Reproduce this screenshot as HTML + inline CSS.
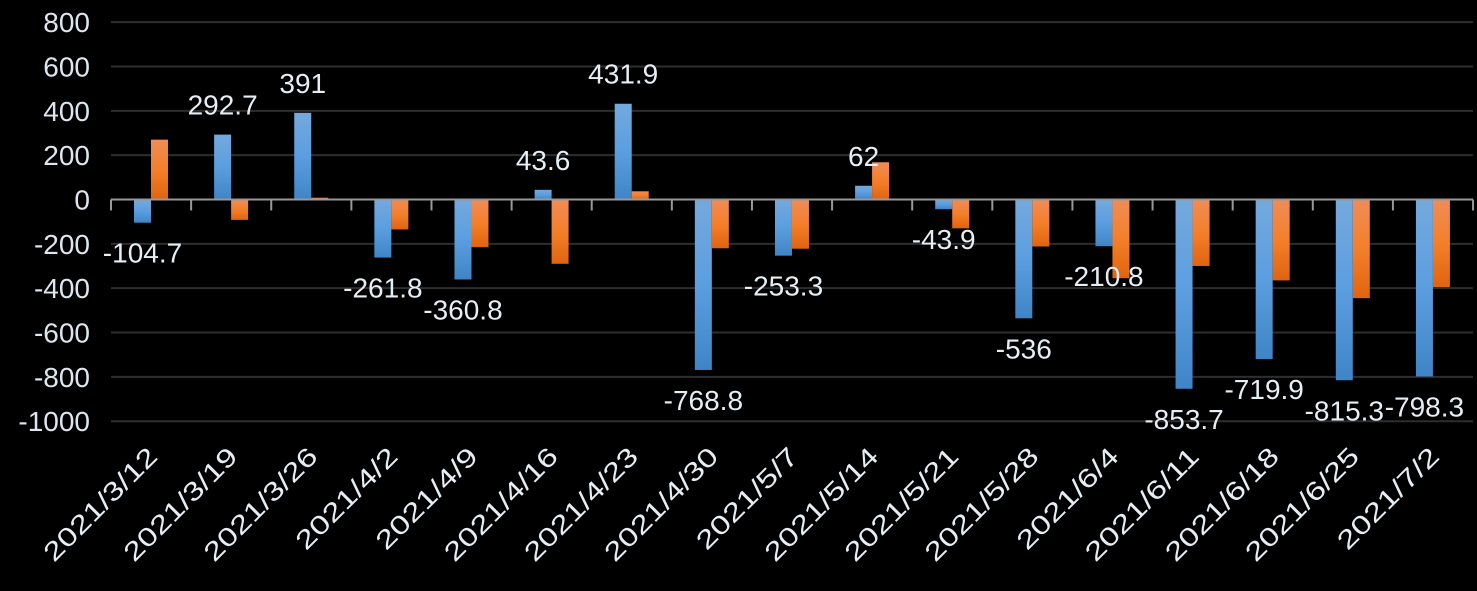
<!DOCTYPE html>
<html><head><meta charset="utf-8"><style>
html,body{margin:0;padding:0;background:#000;}
svg{display:block;font-family:"Liberation Sans",sans-serif;}
</style></head><body>
<svg id="s" width="1477" height="591" viewBox="0 0 1477 591" xmlns="http://www.w3.org/2000/svg">
<defs>
<linearGradient id="gb" x1="0" y1="0" x2="0" y2="1"><stop offset="0" stop-color="#74a9dd"/><stop offset="0.5" stop-color="#5b9ee0"/><stop offset="1" stop-color="#3f85c6"/></linearGradient>
<linearGradient id="go" x1="0" y1="0" x2="0" y2="1"><stop offset="0" stop-color="#f08c57"/><stop offset="0.5" stop-color="#f47f2a"/><stop offset="1" stop-color="#e0640f"/></linearGradient>
</defs>
<g id="g"></g>
</svg>
<script>
var NS="http://www.w3.org/2000/svg",g=document.getElementById("g");
function el(t,a,txt){var e=document.createElementNS(NS,t);for(var k in a)e.setAttribute(k,a[k]);if(txt!==undefined)e.textContent=txt;g.appendChild(e);return e;}
var k=0.2217,y0=199.5;function Y(v){return y0-v*k;}
for(var v=800;v>=-1000;v-=200){ if(v!==0) el("line",{x1:111,x2:1473,y1:Y(v),y2:Y(v),stroke:"#2e2e2e","stroke-width":2});
 el("text",{x:90,y:Y(v)+10,"text-anchor":"end","font-size":28,fill:"#dde6ee"},String(v));}
var B=[-104.7,292.7,391,-261.8,-360.8,43.6,431.9,-768.8,-253.3,62,-43.9,-536,-210.8,-853.7,-719.9,-815.3,-798.3];
var O=[270,-92,8,-135,-215,-290,37,-220,-222,168,-130,-212,-355,-300,-365,-445,-395];
var L=["2021/3/12","2021/3/19","2021/3/26","2021/4/2","2021/4/9","2021/4/16","2021/4/23","2021/4/30","2021/5/7","2021/5/14","2021/5/21","2021/5/28","2021/6/4","2021/6/11","2021/6/18","2021/6/25","2021/7/2"];
var step=80.12,bw=17;
for(var i=0;i<17;i++){var c=151+step*i;
 var b=B[i],o=O[i];
 el("rect",{x:c-bw,y:Math.min(Y(b),y0),width:bw,height:Math.abs(b*k),fill:"url(#gb)"});
 el("rect",{x:c,y:Math.min(Y(o),y0),width:bw,height:Math.abs(o*k),fill:"url(#go)"});
}
el("line",{x1:111,x2:1473,y1:y0,y2:y0,stroke:"#999","stroke-width":2});
for(var i=0;i<=17;i++){var x=111+step*i;el("line",{x1:x,x2:x,y1:y0,y2:y0+11,stroke:"#999","stroke-width":2});}
for(var i=0;i<17;i++){var c=151+step*i,b=B[i];
 var ty=b>=0?Y(b)-30+10:Y(b)+30+10;
 el("text",{x:c-8.5,y:ty,"text-anchor":"middle","font-size":28,fill:"#e6eef4"},String(b));
 var ax=c+8,ay=458;
 var t=el("text",{x:ax,y:ay,"text-anchor":"end","font-size":26,fill:"#e6eef4",transform:"rotate(-45 "+ax+" "+ay+")"},L[i]);
 t.setAttribute("textLength",L[i].length*16.5);t.setAttribute("lengthAdjust","spacingAndGlyphs");
}
</script>
</body></html>
